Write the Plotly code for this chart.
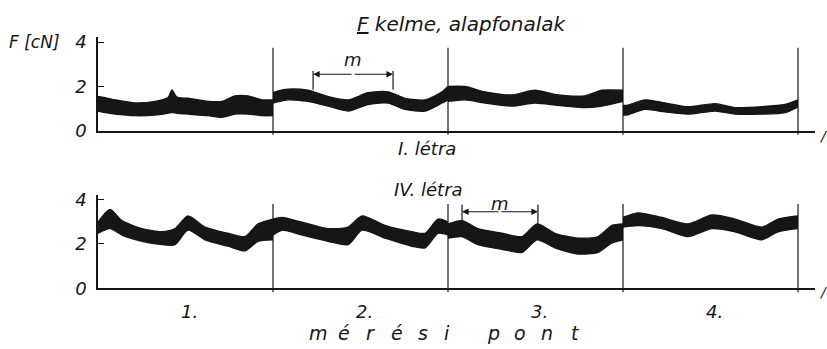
import plotly.graph_objects as go

W, H = 827, 349

# ---- data: envelope of the recorded force band, one list per measuring point ----
# x in measuring-point units (0..4), values in cN
top_x = [
    [0.0, 0.05, 0.097, 0.211, 0.326, 0.40, 0.423, 0.45, 0.514, 0.629, 0.709, 0.783, 0.857, 0.937, 1.0],
    [1.0, 1.03, 1.086, 1.2, 1.314, 1.43, 1.543, 1.657, 1.754, 1.869, 1.966, 2.0],
    [2.0, 2.097, 2.211, 2.366, 2.497, 2.629, 2.783, 2.88, 3.0],
    [3.0, 3.023, 3.126, 3.24, 3.371, 3.526, 3.64, 3.794, 3.926, 4.0],
]
top_hi = [
    [1.55, 1.48, 1.40, 1.26, 1.33, 1.50, 1.85, 1.52, 1.47, 1.33, 1.33, 1.58, 1.58, 1.40, 1.40],
    [1.72, 1.80, 1.88, 1.83, 1.55, 1.40, 1.72, 1.76, 1.47, 1.40, 1.76, 2.00],
    [2.00, 2.00, 1.76, 1.62, 1.83, 1.62, 1.58, 1.83, 1.83],
    [1.15, 1.15, 1.40, 1.26, 1.09, 1.23, 1.05, 1.09, 1.19, 1.40],
]
top_lo = [
    [0.90, 0.82, 0.76, 0.69, 0.72, 0.80, 0.83, 0.80, 0.76, 0.69, 0.62, 0.76, 0.76, 0.69, 0.69],
    [1.26, 1.32, 1.40, 1.33, 1.12, 0.90, 1.19, 1.26, 0.97, 0.90, 1.26, 1.40],
    [1.33, 1.40, 1.26, 1.12, 1.26, 1.15, 1.05, 1.12, 1.33],
    [0.72, 0.72, 0.97, 0.86, 0.76, 0.90, 0.76, 0.76, 0.83, 1.09],
]

bot_x = [
    [0.0, 0.069, 0.137, 0.251, 0.366, 0.44, 0.514, 0.611, 0.743, 0.84, 0.914, 1.0],
    [1.0, 1.051, 1.166, 1.314, 1.429, 1.509, 1.64, 1.794, 1.869, 1.943, 2.0],
    [2.0, 2.08, 2.171, 2.309, 2.423, 2.509, 2.611, 2.743, 2.857, 2.937, 3.0],
    [3.0, 3.086, 3.223, 3.371, 3.509, 3.64, 3.794, 3.886, 4.0],
]
bot_hi = [
    [2.98, 3.55, 3.05, 2.69, 2.55, 2.69, 3.26, 2.76, 2.48, 2.33, 2.90, 3.12],
    [3.12, 3.19, 2.98, 2.69, 2.76, 3.26, 2.83, 2.55, 2.48, 3.12, 2.98],
    [2.90, 3.05, 2.69, 2.48, 2.33, 2.90, 2.48, 2.26, 2.33, 2.83, 2.90],
    [3.19, 3.40, 3.19, 2.90, 3.30, 3.12, 2.76, 3.12, 3.26],
]
bot_lo = [
    [2.48, 2.69, 2.40, 2.12, 1.97, 1.97, 2.62, 2.19, 1.90, 1.69, 2.12, 2.19],
    [2.40, 2.62, 2.40, 2.12, 1.97, 2.62, 2.26, 1.90, 1.83, 2.48, 2.40],
    [2.26, 2.33, 1.97, 1.76, 1.62, 2.19, 1.83, 1.55, 1.62, 2.05, 2.19],
    [2.76, 2.83, 2.69, 2.33, 2.69, 2.55, 2.19, 2.55, 2.69],
]

dividers = [1, 2, 3, 4]
point_labels = ["1.", "2.", "3.", "4."]
y_ticks = [0, 2, 4]
panel_titles = ["I. létra", "IV. létra"]
m_top = [1.229, 1.686]
m_bot = [2.08, 2.514]

# ---- layout geometry (pixels) ----
X0, X_END, PX_PER_UNIT = 98, 815, 175.0
Y_PX_PER_UNIT = 23.3
panels = {"top": (131, 33), "bot": (296, 198)}  # (y0 pixel, axis-top pixel)

def px(x):
    return x / W

def py(y):
    return 1 - y / H

xr = [0, (X_END - X0) / PX_PER_UNIT]
INK = "#161616"
FONT = dict(family="DejaVu Sans", size=18, color=INK, style="italic")

fig = go.Figure()

def band(xs, los, his, xa, ya):
    for x, lo, hi in zip(xs, los, his):
        fig.add_trace(go.Scatter(x=x, y=lo, mode="lines",
                                 line=dict(color=INK, width=1.4, shape="spline", smoothing=0.7),
                                 xaxis=xa, yaxis=ya, showlegend=False, hoverinfo="skip"))
        fig.add_trace(go.Scatter(x=x, y=hi, mode="lines",
                                 line=dict(color=INK, width=1.4, shape="spline", smoothing=0.7),
                                 fill="tonexty", fillcolor=INK,
                                 xaxis=xa, yaxis=ya, showlegend=False, hoverinfo="skip"))

band(top_x, top_lo, top_hi, "x", "y")
band(bot_x, bot_lo, bot_hi, "x2", "y2")

axis_common = dict(showgrid=False, zeroline=False, showline=True, linecolor=INK, linewidth=1.6)
yrng = {k: [0, (v[0] - v[1]) / Y_PX_PER_UNIT] for k, v in panels.items()}
ycommon = dict(tickvals=y_ticks, ticktext=[str(v) for v in y_ticks], ticks="inside", ticklen=6,
               tickcolor=INK, tickwidth=1.4, tickfont=dict(FONT, size=18), ticklabelstandoff=6)

fig.update_layout(
    width=W, height=H, margin=dict(l=0, r=0, t=0, b=0),
    paper_bgcolor="white", plot_bgcolor="white",
    xaxis=dict(domain=[px(X0), px(X_END)], range=xr, anchor="y", showticklabels=False,
               ticks="", **axis_common),
    xaxis2=dict(domain=[px(X0), px(X_END)], range=xr, anchor="y2", showticklabels=False,
                ticks="", **axis_common),
    yaxis=dict(domain=[py(panels["top"][0]), py(panels["top"][1])], range=yrng["top"], anchor="x",
               **ycommon, **axis_common),
    yaxis2=dict(domain=[py(panels["bot"][0]), py(panels["bot"][1])], range=yrng["bot"], anchor="x2",
                **ycommon, **axis_common),
)

shapes = []
ann = []
# dividers between measuring points
for (xa, ya, rng, top_v) in [("x", "y", yrng["top"], 3.75), ("x2", "y2", yrng["bot"], 3.8)]:
    for d in dividers:
        xd = d / xr[1]
        shapes.append(dict(type="line", xref=f"{xa} domain", yref=f"{ya} domain",
                           x0=xd, x1=xd, y0=-0.04, y1=top_v / rng[1],
                           line=dict(color=INK, width=1.2)))
    # arrow head at the end of the x axis
    ann.append(dict(x=xr[1] + 0.02, y=0, xref=xa, yref=ya, ax=-14, ay=0, text="",
                    showarrow=True, arrowhead=2, arrowsize=1.3, arrowwidth=1.6, arrowcolor=INK))

# m brackets
def bracket(xa, ya, xs, y_lo, y_hi, y_mid, y_txt):
    for xv in xs:
        shapes.append(dict(type="line", xref=xa, yref=ya, x0=xv, x1=xv, y0=y_lo, y1=y_hi,
                           line=dict(color=INK, width=1.2)))
    mid = (xs[0] + xs[1]) / 2
    for xv in xs:
        ann.append(dict(x=xv, y=y_mid, xref=xa, yref=ya, ax=mid, ay=y_mid, axref=xa, ayref=ya,
                        text="", showarrow=True, arrowhead=2, arrowsize=1.2, arrowwidth=1.1,
                        arrowcolor=INK, standoff=0))
    ann.append(dict(x=mid, y=y_txt, xref=xa, yref=ya, text="m", showarrow=False,
                    xanchor="center", yanchor="middle", font=dict(FONT, size=18)))

bracket("x", "y", m_top, 1.85, 2.7, 2.55, 3.2)
bracket("x2", "y2", m_bot, 2.92, 3.78, 3.45, 3.8)

def label(x, y, text, size, xref="paper"):
    ann.append(dict(x=x, y=y, xref=xref, yref="paper", text=text, showarrow=False,
                    xanchor="center", yanchor="middle", font=dict(FONT, size=size)))

# texts
label(px(34), py(38), "F [cN]", 17)
label(px(462), py(19), "<u>F</u> kelme, alapfonalak", 20)
label(px(427), py(149), panel_titles[0], 18)
label(px(428), py(192), panel_titles[1], 18)
for i, lab in enumerate(point_labels):
    label(i + 0.52, py(320), lab, 18, xref="x2")
caption_letters = ["m", "é", "r", "é", "s", "i", "p", "o", "n", "t"]
caption_x = [318, 344, 370, 397, 423, 447, 493, 520, 547, 575]
for ch, cx in zip(caption_letters, caption_x):
    label(px(cx), py(343), ch, 19)
for yy in (136, 300):
    label(px(823), py(yy), "/", 14)

fig.update_layout(shapes=shapes, annotations=ann)
fig.write_html("out.html")
